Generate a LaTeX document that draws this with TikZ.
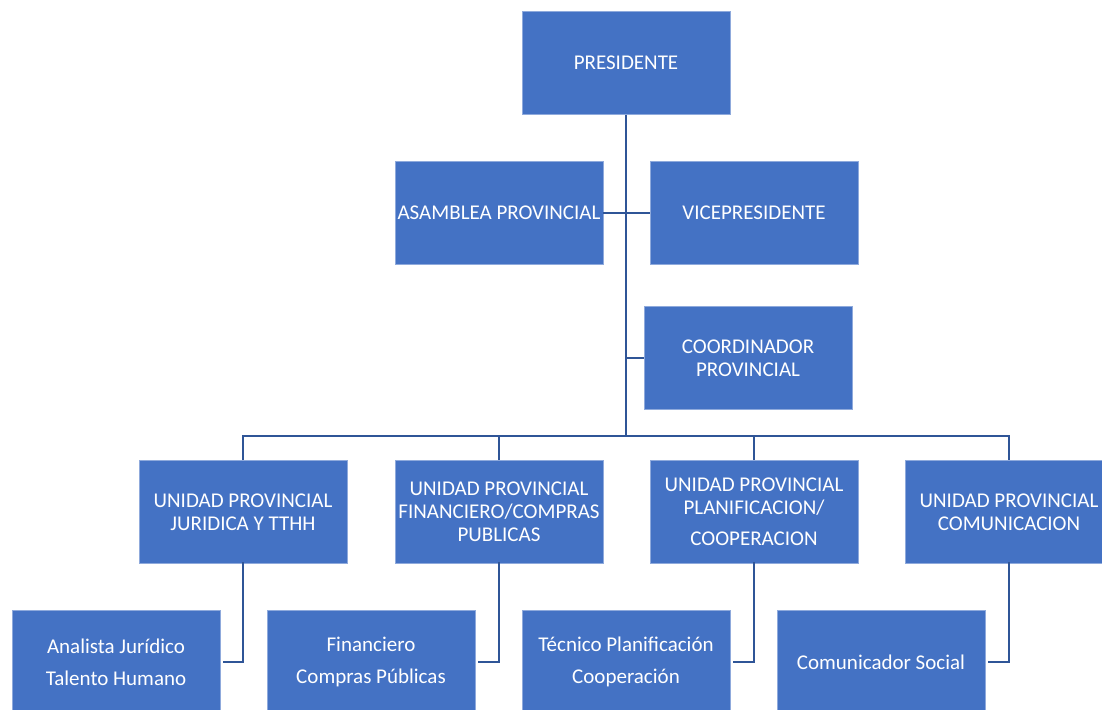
\documentclass[tikz,border=0pt]{standalone}
\usepackage{fontspec}
\setmainfont{Carlito}
\definecolor{boxblue}{HTML}{4472C4}
\definecolor{lineblue}{HTML}{2F5597}
\tikzset{
  unit/.style={rectangle, fill=boxblue, draw=boxblue!60!white, line width=0.6pt,
    minimum width=208pt, minimum height=103pt, inner sep=0pt,
    text=white, align=center, font=\fontsize{21}{23}\selectfont},
  conn/.style={draw=lineblue, line width=2.6pt}
}
\begin{document}
\begin{tikzpicture}[x=1pt,y=-1pt]
    \useasboundingbox (0,0) rectangle (1102,709);

    % top levels
    \node[unit] (pres) at (626,63) {PRESIDENTE};
    \node[unit] (asam) at (499,213) {ASAMBLEA PROVINCIAL};
    \node[unit] (vice) at (754,213) {VICEPRESIDENTE};
    \node[unit] (coor) at (748,358) {COORDINADOR\\PROVINCIAL};

    % units
    \node[unit] (jur) at (243,512) {UNIDAD PROVINCIAL\\JURIDICA Y TTHH};
    \node[unit] (fin) at (499,512) {UNIDAD PROVINCIAL\\FINANCIERO/COMPRAS\\PUBLICAS};
    \node[unit] (pla) at (754,512) {UNIDAD PROVINCIAL\\PLANIFICACION/\\[8pt]COOPERACION};
    \node[unit] (com) at (1009,512) {UNIDAD PROVINCIAL\\COMUNICACION};

    % staff
    \node[unit] (ana) at (116,662) {Analista Jurídico\\[9pt]Talento Humano};
    \node[unit] (fic) at (371,662) {Financiero\\[9pt]Compras Públicas};
    \node[unit] (tec) at (626,662) {Técnico Planificación\\[9pt]Cooperación};
    \node[unit] (soc) at (881,662) {Comunicador Social};

    \coordinate (bus) at (626,436);
    \coordinate (coorjoin) at (626,358);

    \draw[conn] (pres.south) -- (bus);
    \draw[conn] (asam.east) -- (vice.west);
    \draw[conn] (coor.west) -- (coorjoin);
    \draw[conn] (jur.north) |- (bus) -| (com.north);
    \draw[conn] (fin.north) -- (fin.north |- bus);
    \draw[conn] (pla.north) -- (pla.north |- bus);

    \draw[conn] ([yshift=2pt]jur.south) |- ([xshift=3pt]ana.east);
    \draw[conn] ([yshift=2pt]fin.south) |- ([xshift=3pt]fic.east);
    \draw[conn] ([yshift=2pt]pla.south) |- ([xshift=3pt]tec.east);
    \draw[conn] ([yshift=2pt]com.south) |- ([xshift=3pt]soc.east);
\end{tikzpicture}
\end{document}
